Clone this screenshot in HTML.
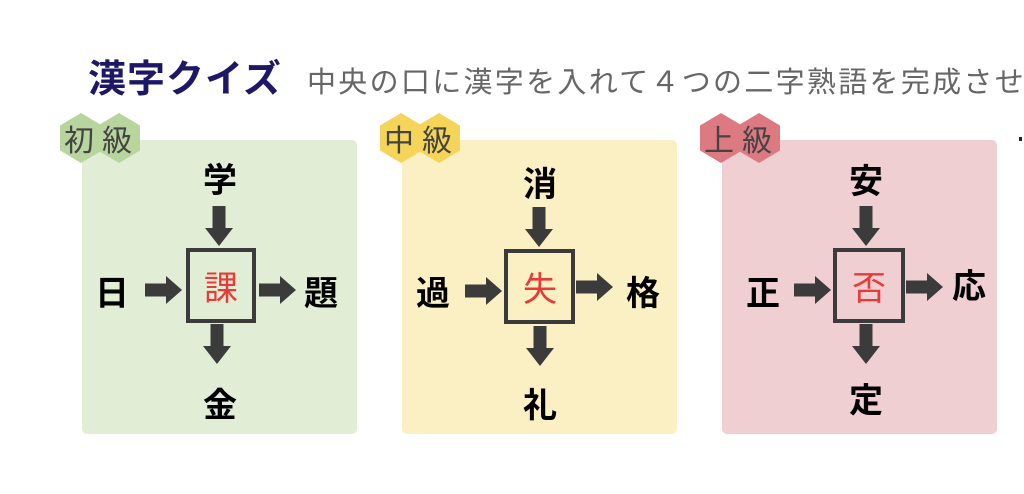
<!DOCTYPE html>
<html><head><meta charset="utf-8"><style>
html,body{margin:0;padding:0;background:#fff;width:1024px;height:494px;overflow:hidden}
svg{display:block}
text{font-family:"Liberation Sans","Noto Sans CJK JP",sans-serif}
</style></head><body>
<svg width="1024" height="494" viewBox="0 0 1024 494">
<defs>
<polygon id="ad" points="-6.5,0 6.5,0 6.5,22 14,22 0,40 -14,22 -6.5,22" fill="#3b3b3b"/>
<polygon id="ar" points="0,-6.5 0,6.5 21,6.5 21,14 37,0 21,-14 21,-6.5" fill="#3b3b3b"/>
<polygon id="hex" points="0,-25 21,-12.5 21,12.5 0,25 -21,12.5 -21,-12.5"/>
</defs>
<text x="88" y="92" font-size="38" font-weight="bold" fill="#1c1766" letter-spacing="1">漢字クイズ</text>
<text x="307" y="92" font-size="29" fill="#666" letter-spacing="2.3">中央の口に漢字を入れて４つの二字熟語を完成させ</text>

<!-- panel 1 -->
<rect x="82" y="140" width="275" height="294" rx="5" fill="#e2edd5"/>
<use href="#hex" x="81" y="138" fill="#b7d59c"/>
<use href="#hex" x="119" y="138" fill="#b7d59c"/>
<text x="64" y="151" font-size="30" fill="#444">初</text>
<text x="102" y="151" font-size="30" fill="#444">級</text>
<g font-size="34" font-weight="bold" fill="#000" text-anchor="middle">
<text x="220" y="192">学</text><text x="112" y="305">日</text><text x="321" y="305">題</text><text x="220" y="417">金</text></g>
<rect x="188" y="250" width="66" height="71" fill="none" stroke="#3b3b3b" stroke-width="4"/>
<text x="221" y="300" font-size="34" fill="#e83a36" text-anchor="middle">課</text>
<use href="#ad" x="219" y="206"/><use href="#ad" x="217" y="324"/>
<use href="#ar" x="145" y="290"/><use href="#ar" x="259" y="290"/>

<!-- panel 2 -->
<rect x="402" y="140" width="275" height="294" rx="5" fill="#fbf0c3"/>
<use href="#hex" x="401" y="138" fill="#f5d45a"/>
<use href="#hex" x="439" y="138" fill="#f5d45a"/>
<text x="384" y="151" font-size="30" fill="#444">中</text>
<text x="422" y="151" font-size="30" fill="#444">級</text>
<g font-size="34" font-weight="bold" fill="#000" text-anchor="middle">
<text x="540" y="196">消</text><text x="433" y="305">過</text><text x="643" y="305">格</text><text x="540" y="417">礼</text></g>
<rect x="506" y="251" width="67" height="71" fill="none" stroke="#3b3b3b" stroke-width="4"/>
<text x="540" y="301" font-size="34" fill="#e83a36" text-anchor="middle">失</text>
<use href="#ad" x="539" y="207"/><use href="#ad" x="540" y="326"/>
<use href="#ar" x="465" y="291"/><use href="#ar" x="576" y="287"/>

<!-- panel 3 -->
<rect x="722" y="140" width="275" height="294" rx="5" fill="#f0cfd2"/>
<use href="#hex" x="721" y="138" fill="#dd7a81"/>
<use href="#hex" x="759" y="138" fill="#dd7a81"/>
<text x="704" y="151" font-size="30" fill="#444">上</text>
<text x="742" y="151" font-size="30" fill="#444">級</text>
<g font-size="34" font-weight="bold" fill="#000" text-anchor="middle">
<text x="866" y="193">安</text><text x="763" y="305">正</text><text x="969" y="298">応</text><text x="866" y="412">定</text></g>
<rect x="835" y="250" width="68" height="71" fill="none" stroke="#3b3b3b" stroke-width="4"/>
<text x="869" y="300" font-size="34" fill="#e83a36" text-anchor="middle">否</text>
<use href="#ad" x="866" y="206"/><use href="#ad" x="866" y="324"/>
<use href="#ar" x="794" y="290"/><use href="#ar" x="906" y="287"/>
<rect x="1019" y="137" width="3" height="4" fill="#1c1766"/>
</svg>
</body></html>
